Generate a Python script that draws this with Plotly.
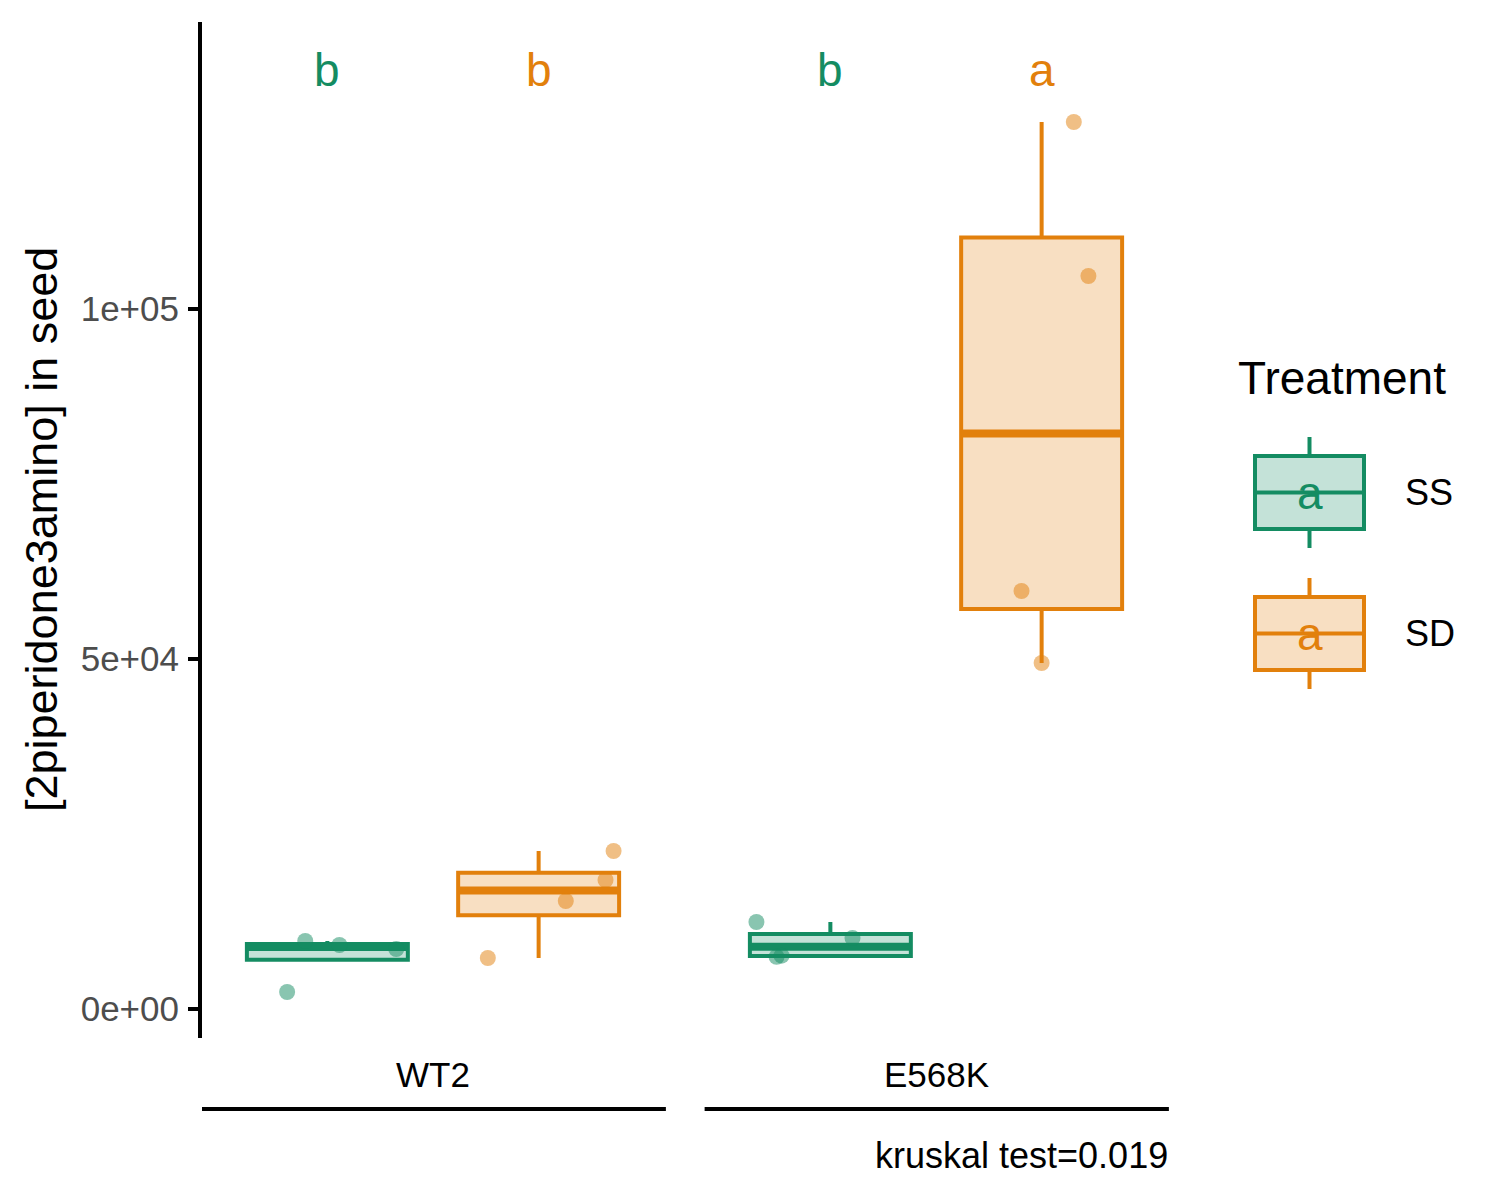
import numpy as np
import plotly.graph_objects as go

# ---------------- data ----------------
genotypes = ["WT2", "E568K"]
treatments = ["SS", "SD"]

wt2_ss = [2430, 9714, 9143, 8571]
wt2_sd = [22571, 18429, 15429, 7286]
e568k_ss = [12430, 10143, 7450, 7620]
e568k_sd = [126714, 104714, 59714, 49429]

# horizontal jitter of each point (fraction of a category)
jit_wt2_ss = [-0.080, -0.044, 0.024, 0.137]
jit_wt2_sd = [0.149, 0.133, 0.054, -0.101]
jit_e568k_ss = [-0.147, 0.044, -0.107, -0.097]
jit_e568k_sd = [0.064, 0.093, -0.040, 0.000]

letters = {("WT2", "SS"): "b", ("WT2", "SD"): "b",
           ("E568K", "SS"): "b", ("E568K", "SD"): "a"}
letter_y = 134200

y_tickvals = [0, 50000, 100000]
y_ticktext = ["0e+00", "5e+04", "1e+05"]
caption = "kruskal test=0.019"
y_title = "[2piperidone3amino] in seed"
legend_title = "Treatment"

groups = [
    ("WT2", "SS", wt2_ss, jit_wt2_ss),
    ("WT2", "SD", wt2_sd, jit_wt2_sd),
    ("E568K", "SS", e568k_ss, jit_e568k_ss),
    ("E568K", "SD", e568k_sd, jit_e568k_sd),
]

# ---------------- style ----------------
colors = {"SS": (20, 140, 98), "SD": (226, 128, 12)}
def rgb(c, a=1.0):
    return f"rgba({c[0]},{c[1]},{c[2]},{a})"

FONT = "Liberation Sans, Arial, Helvetica, sans-serif"
dodge = 0.21
box_w = 0.32

W, H = 1500, 1200
L, R, T, B = 202, 1170, 22, 1038   # plot area in pixels
def xp(px):
    return (px - L) / (R - L)
def yp(py):
    return (B - py) / (B - T)

fig = go.Figure()

def box_stats(vals):
    v = np.sort(np.array(vals, dtype=float))
    q1, med, q3 = np.percentile(v, [25, 50, 75])
    iqr = q3 - q1
    lo = v[v >= q1 - 1.5 * iqr].min()
    hi = v[v <= q3 + 1.5 * iqr].max()
    lo = min(lo, q1)
    hi = max(hi, q3)
    return q1, med, q3, lo, hi

# boxes
for g, t, vals, jit in groups:
    gi = genotypes.index(g)
    pos = gi + (-dodge if t == "SS" else dodge)
    q1, med, q3, lo, hi = box_stats(vals)
    c = colors[t]
    fig.add_trace(go.Box(
        x=[pos], q1=[q1], median=[med], q3=[q3],
        lowerfence=[lo], upperfence=[hi],
        width=box_w, whiskerwidth=0,
        fillcolor=rgb(c, 0.25), line=dict(color=rgb(c), width=4),
        boxpoints=False, showlegend=False, hoverinfo="skip",
    ))
    # thick median (ggplot fatten = 2)
    fig.add_trace(go.Scatter(
        x=[pos - box_w / 2, pos + box_w / 2], y=[med, med], mode="lines",
        line=dict(color=rgb(c), width=8), showlegend=False, hoverinfo="skip",
    ))

# jittered points
for g, t, vals, jit in groups:
    gi = genotypes.index(g)
    pos = gi + (-dodge if t == "SS" else dodge)
    c = colors[t]
    fig.add_trace(go.Scatter(
        x=[pos + j for j in jit], y=vals, mode="markers",
        marker=dict(size=16, color=rgb(c, 0.5), line=dict(width=0)),
        showlegend=False, hoverinfo="skip",
    ))

annotations = []
shapes = []

# significance letters
for (g, t), lab in letters.items():
    gi = genotypes.index(g)
    pos = gi + (-dodge if t == "SS" else dodge)
    annotations.append(dict(
        x=pos, y=letter_y, xref="x", yref="y", text=lab, showarrow=False,
        font=dict(family=FONT, size=46, color=rgb(colors[t])),
        xanchor="center", yanchor="middle",
    ))

# nested x labels + lines
for gi, g in enumerate(genotypes):
    annotations.append(dict(
        x=gi, y=yp(1074), xref="x", yref="paper", text=g, showarrow=False,
        font=dict(family=FONT, size=35, color="black"),
        xanchor="center", yanchor="middle",
    ))
    shapes.append(dict(
        type="line", xref="x", yref="paper", x0=gi - 0.46, x1=gi + 0.463,
        y0=yp(1109), y1=yp(1109), line=dict(color="black", width=4),
    ))

# caption
annotations.append(dict(
    x=xp(1170), y=yp(1155), xref="paper", yref="paper", text=caption,
    showarrow=False, font=dict(family=FONT, size=36, color="black"),
    xanchor="right", yanchor="middle",
))

# y title
annotations.append(dict(
    x=xp(41), y=yp(530), xref="paper", yref="paper", text=y_title,
    showarrow=False, textangle=-90,
    font=dict(family=FONT, size=45, color="black"),
    xanchor="center", yanchor="middle",
))

# legend (drawn manually, ggplot style)
annotations.append(dict(
    x=xp(1236), y=yp(378), xref="paper", yref="paper", text=legend_title,
    showarrow=False, font=dict(family=FONT, size=46, color="black"),
    xanchor="left", yanchor="middle",
))
key_tops = {"SS": 456, "SD": 597}
for t in treatments:
    c = colors[t]
    top = key_tops[t]
    bot = top + 73
    mid = (top + bot) / 2
    cx = 1309.5
    shapes.append(dict(type="rect", xref="paper", yref="paper",
                       x0=xp(1255), x1=xp(1364), y0=yp(bot), y1=yp(top),
                       fillcolor=rgb(c, 0.25), line=dict(color=rgb(c), width=4)))
    shapes.append(dict(type="line", xref="paper", yref="paper",
                       x0=xp(cx), x1=xp(cx), y0=yp(top - 19), y1=yp(top),
                       line=dict(color=rgb(c), width=4)))
    shapes.append(dict(type="line", xref="paper", yref="paper",
                       x0=xp(cx), x1=xp(cx), y0=yp(bot), y1=yp(bot + 19),
                       line=dict(color=rgb(c), width=4)))
    shapes.append(dict(type="line", xref="paper", yref="paper",
                       x0=xp(1255), x1=xp(1364), y0=yp(mid), y1=yp(mid),
                       line=dict(color=rgb(c), width=4)))
    annotations.append(dict(
        x=xp(cx), y=yp(mid + 1), xref="paper", yref="paper", text="a",
        showarrow=False, font=dict(family=FONT, size=46, color=rgb(c)),
        xanchor="center", yanchor="middle",
    ))
    annotations.append(dict(
        x=xp(1403), y=yp(mid), xref="paper", yref="paper", text=t,
        showarrow=False, font=dict(family=FONT, size=36, color="black"),
        xanchor="left", yanchor="middle",
    ))

x_lo = (L - 433) / 503
x_hi = 1 + (R - 936) / 503
y_lo = -(B - 1009) / 700 * 1e5
y_hi = (1009 - T) / 700 * 1e5

fig.update_layout(
    width=W, height=H,
    margin=dict(l=L, r=W - R, t=T, b=H - B, pad=0),
    paper_bgcolor="white", plot_bgcolor="white",
    showlegend=False,
    annotations=annotations, shapes=shapes,
    xaxis=dict(range=[x_lo, x_hi], showgrid=False, zeroline=False,
               showline=False, showticklabels=False, ticks=""),
    yaxis=dict(range=[y_lo, y_hi], showgrid=False, zeroline=False,
               showline=True, linecolor="black", linewidth=4,
               ticks="outside", ticklen=10, tickwidth=4, tickcolor="black",
               tickvals=y_tickvals, ticktext=y_ticktext,
               ticklabelstandoff=2,
               tickfont=dict(family=FONT, size=35, color="#4D4D4D")),
)

fig.write_html("out.html",
               config={"displayModeBar": False, "staticPlot": True},
               post_script="document.body.style.margin='0px';"
                           "document.body.style.padding='0px';")
